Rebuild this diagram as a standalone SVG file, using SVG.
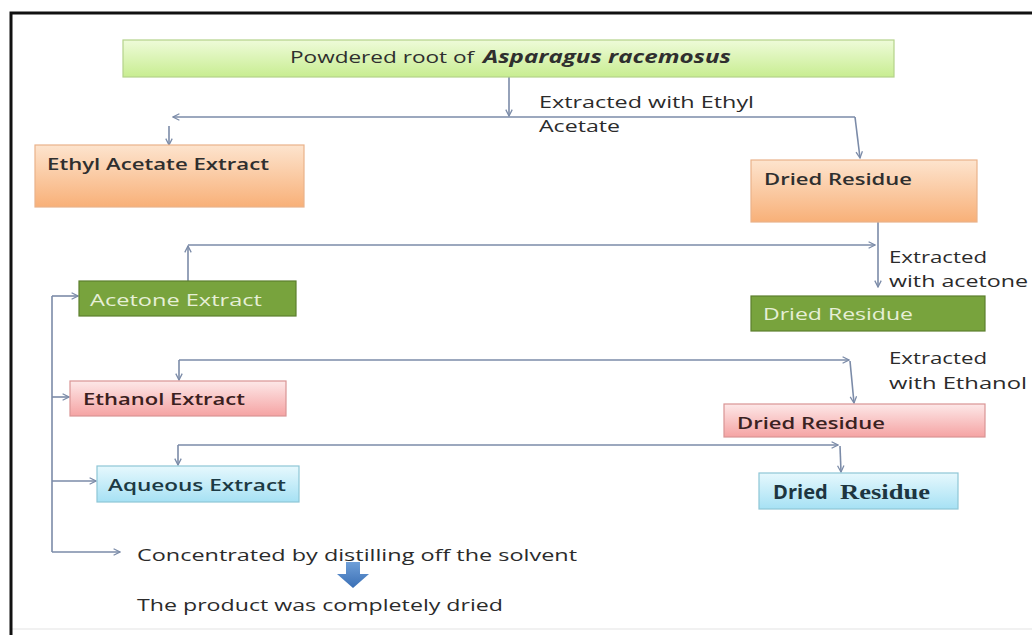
<svg xmlns="http://www.w3.org/2000/svg" width="1032" height="635" viewBox="0 0 1032 635">
<defs>
<linearGradient id="gTop" x1="0" y1="0" x2="0" y2="1"><stop offset="0" stop-color="#eefbd9"/><stop offset="1" stop-color="#c8ed91"/></linearGradient>
<linearGradient id="gOrange" x1="0" y1="0" x2="0" y2="1"><stop offset="0" stop-color="#fde4ce"/><stop offset="1" stop-color="#f8b078"/></linearGradient>
<linearGradient id="gPink" x1="0" y1="0" x2="0" y2="1"><stop offset="0" stop-color="#fde8e8"/><stop offset="1" stop-color="#f5a3a3"/></linearGradient>
<linearGradient id="gBlue" x1="0" y1="0" x2="0" y2="1"><stop offset="0" stop-color="#e6f8fd"/><stop offset="1" stop-color="#a6e1f4"/></linearGradient>
<linearGradient id="gArrow" x1="0" y1="0" x2="0" y2="1"><stop offset="0" stop-color="#6f9fd8"/><stop offset="1" stop-color="#3a6fb5"/></linearGradient>
<marker id="ah" viewBox="0 0 10 10" refX="9" refY="5" markerWidth="8" markerHeight="8" markerUnits="userSpaceOnUse" orient="auto">
<path d="M1,1 L9,5 L1,9" fill="none" stroke="#7b8ba8" stroke-width="1.6"/>
</marker>
<style>
.cn{stroke:#7b8ba8;stroke-width:1.6;fill:none}
.t{font-family:"Open Sans","Liberation Sans",sans-serif;font-size:17px;fill:#2f2f2f}
.b{font-weight:600}
.lbl{font-family:"Open Sans","Liberation Sans",sans-serif;font-size:17px;font-weight:500;fill:#2b2b2b}
.green{fill:#78a33d;stroke:#5c7f2d;stroke-width:1.2}
</style>
</defs>
<rect width="1032" height="635" fill="#ffffff"/>
<g id="frame">
<line x1="12" y1="629" x2="1032" y2="629" stroke="#ececec" stroke-width="1.5"/>
<path d="M11,635 V13 H1032" fill="none" stroke="#111" stroke-width="3"/>
</g>

<g id="connectors">
<line class="cn" x1="509" y1="77" x2="509" y2="116" marker-end="url(#ah)"/>
<line class="cn" x1="855" y1="117" x2="173" y2="117" marker-end="url(#ah)"/>
<line class="cn" x1="855" y1="117" x2="860" y2="158" marker-end="url(#ah)"/>
<line class="cn" x1="169" y1="126" x2="169" y2="145" marker-end="url(#ah)"/>

<line class="cn" x1="188" y1="281" x2="188" y2="246" marker-end="url(#ah)"/>
<line class="cn" x1="188" y1="245" x2="875" y2="245" marker-end="url(#ah)"/>
<line class="cn" x1="878" y1="222" x2="878" y2="287" marker-end="url(#ah)"/>

<line class="cn" x1="179" y1="360" x2="849" y2="360" marker-end="url(#ah)"/>
<line class="cn" x1="179" y1="360" x2="179" y2="380" marker-end="url(#ah)"/>
<line class="cn" x1="850" y1="361" x2="854" y2="403" marker-end="url(#ah)"/>

<line class="cn" x1="178" y1="445" x2="838" y2="445" marker-end="url(#ah)"/>
<line class="cn" x1="178" y1="445" x2="178" y2="465" marker-end="url(#ah)"/>
<line class="cn" x1="840" y1="446" x2="841" y2="472" marker-end="url(#ah)"/>

<line class="cn" x1="52" y1="296" x2="52" y2="552"/>
<line class="cn" x1="52" y1="296" x2="78" y2="296" marker-end="url(#ah)"/>
<line class="cn" x1="52" y1="397" x2="69" y2="397" marker-end="url(#ah)"/>
<line class="cn" x1="52" y1="481" x2="96" y2="481" marker-end="url(#ah)"/>
<line class="cn" x1="52" y1="552" x2="120" y2="552" marker-end="url(#ah)"/>
</g>

<g id="n-powdered">
<rect x="123" y="40" width="771" height="37" fill="url(#gTop)" stroke="#b4d38a" stroke-width="1.2"/>
<text class="t" y="63" font-weight="500"><tspan x="290" textLength="190" lengthAdjust="spacingAndGlyphs">Powdered root of </tspan><tspan x="483" font-weight="700" font-style="italic" textLength="248" lengthAdjust="spacingAndGlyphs">Asparagus racemosus</tspan></text>
</g>

<g id="lbl-ethyl">
<text class="lbl" x="539" y="108" textLength="215" lengthAdjust="spacingAndGlyphs">Extracted with Ethyl</text>
<text class="lbl" x="539" y="132" textLength="81" lengthAdjust="spacingAndGlyphs">Acetate</text>
</g>

<g id="n-ethylacetate">
<rect x="35" y="145" width="269" height="62" fill="url(#gOrange)" stroke="#eab28a" stroke-width="1.2"/>
<text class="t b" x="47" y="170" fill="#3a3535" textLength="222" lengthAdjust="spacingAndGlyphs">Ethyl Acetate Extract</text>
</g>

<g id="n-dried1">
<rect x="751" y="160" width="226" height="62" fill="url(#gOrange)" stroke="#eab28a" stroke-width="1.2"/>
<text class="t b" x="764" y="185" textLength="148" lengthAdjust="spacingAndGlyphs">Dried Residue</text>
</g>

<g id="lbl-acetone">
<text class="lbl" x="889" y="263" textLength="98" lengthAdjust="spacingAndGlyphs">Extracted</text>
<text class="lbl" x="889" y="287" textLength="139" lengthAdjust="spacingAndGlyphs">with acetone</text>
</g>

<g id="n-acetone">
<rect class="green" x="79" y="281" width="217" height="35"/>
<text class="t" x="90" y="306" font-weight="500" style="fill:#e6efd6" textLength="172" lengthAdjust="spacingAndGlyphs">Acetone Extract</text>
</g>

<g id="n-dried2">
<rect class="green" x="751" y="296" width="234" height="35"/>
<text class="t" x="763" y="320" font-weight="500" style="fill:#e6efd6" textLength="150" lengthAdjust="spacingAndGlyphs">Dried Residue</text>
</g>

<g id="lbl-ethanol">
<text class="lbl" x="889" y="364" textLength="98" lengthAdjust="spacingAndGlyphs">Extracted</text>
<text class="lbl" x="889" y="389" textLength="138" lengthAdjust="spacingAndGlyphs">with Ethanol</text>
</g>

<g id="n-ethanol">
<rect x="70" y="381" width="216" height="35" fill="url(#gPink)" stroke="#d99494" stroke-width="1.2"/>
<text class="t b" x="83" y="405" style="fill:#3b2020" textLength="162" lengthAdjust="spacingAndGlyphs">Ethanol Extract</text>
</g>

<g id="n-dried3">
<rect x="724" y="404" width="261" height="33" fill="url(#gPink)" stroke="#d99494" stroke-width="1.2"/>
<text class="t b" x="737" y="429" style="fill:#3b2222" textLength="148" lengthAdjust="spacingAndGlyphs">Dried Residue</text>
</g>

<g id="n-aqueous">
<rect x="97" y="466" width="202" height="36" fill="url(#gBlue)" stroke="#8ec6d6" stroke-width="1.2"/>
<text class="t b" x="108" y="491" style="fill:#1c3a44" textLength="178" lengthAdjust="spacingAndGlyphs">Aqueous Extract</text>
</g>

<g id="n-dried4">
<rect x="759" y="473" width="199" height="36" fill="url(#gBlue)" stroke="#8ec6d6" stroke-width="1.2"/>
<text y="499" style="fill:#1d3540"><tspan x="773" font-family="Open Sans, Liberation Sans, sans-serif" font-weight="700" font-size="19" textLength="60" lengthAdjust="spacingAndGlyphs">Dried </tspan><tspan x="840" font-family="Liberation Serif, serif" font-weight="700" font-size="20" textLength="90" lengthAdjust="spacingAndGlyphs">Residue</tspan></text>
</g>

<g id="n-concentrated">
<text class="lbl" x="137" y="561" textLength="440" lengthAdjust="spacingAndGlyphs">Concentrated by distilling off the solvent</text>
</g>

<g id="blockarrow">
<polygon points="346,562 360,562 360,574 369,574 353,588 337,574 346,574" fill="url(#gArrow)"/>
</g>

<g id="n-dried-final">
<text class="lbl" x="137" y="611" textLength="366" lengthAdjust="spacingAndGlyphs">The product was completely dried</text>
</g>
</svg>
